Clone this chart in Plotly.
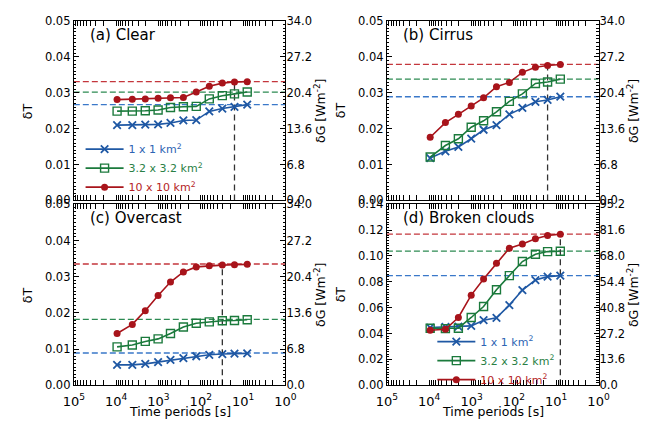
import plotly.graph_objects as go

FONT = "DejaVu Sans"

# ---------------- data ----------------
periods = [9500, 4150, 2050, 1020, 520, 258, 128, 63, 31, 16, 8]

x_tickvals = [1e5, 1e4, 1e3, 1e2, 1e1, 1e0]
x_ticktext = ["10<sup>5</sup>", "10<sup>4</sup>", "10<sup>3</sup>",
              "10<sup>2</sup>", "10<sup>1</sup>", "10<sup>0</sup>"]

series_names = ["1 x 1 km<sup>2</sup>", "3.2 x 3.2 km<sup>2</sup>", "10 x 10 km<sup>2</sup>"]

clear_1 = [0.0210, 0.0210, 0.0211, 0.0212, 0.0216, 0.0223, 0.0224, 0.0248, 0.0256, 0.0261, 0.0267]
clear_3 = [0.0249, 0.0249, 0.0250, 0.0252, 0.0259, 0.0261, 0.0262, 0.0283, 0.0292, 0.0297, 0.0302]
clear_10 = [0.0281, 0.0282, 0.0283, 0.0285, 0.0286, 0.0287, 0.0302, 0.0318, 0.0327, 0.0330, 0.0331]
clear_asym = [0.0267, 0.0302, 0.0331]

cirrus_1 = [0.0118, 0.0137, 0.0149, 0.0172, 0.0197, 0.0210, 0.0240, 0.0258, 0.0275, 0.0280, 0.0289]
cirrus_3 = [0.0121, 0.0153, 0.0172, 0.0204, 0.0222, 0.0247, 0.0276, 0.0297, 0.0326, 0.0330, 0.0338]
cirrus_10 = [0.0176, 0.0217, 0.0240, 0.0263, 0.0286, 0.0317, 0.0329, 0.0357, 0.0371, 0.0376, 0.0379]
cirrus_asym = [0.0289, 0.0338, 0.0379]

overcast_1 = [0.0056, 0.0056, 0.0059, 0.0064, 0.0070, 0.0075, 0.0080, 0.0084, 0.0086, 0.0087, 0.0088]
overcast_3 = [0.0106, 0.0111, 0.0121, 0.0128, 0.0143, 0.0161, 0.0171, 0.0175, 0.0178, 0.0179, 0.0181]
overcast_10 = [0.0143, 0.0168, 0.0206, 0.0248, 0.0285, 0.0313, 0.0327, 0.0330, 0.0332, 0.0333, 0.0334]
overcast_asym = [0.0089, 0.0182, 0.0335]

broken_1 = [0.0446, 0.0451, 0.0454, 0.0459, 0.0503, 0.0521, 0.0620, 0.0736, 0.0814, 0.0840, 0.0848]
broken_3 = [0.0441, 0.0438, 0.0441, 0.0524, 0.0609, 0.0739, 0.0848, 0.0957, 0.1014, 0.1034, 0.1037]
broken_10 = [0.0425, 0.0433, 0.0524, 0.0697, 0.0822, 0.0944, 0.1060, 0.1092, 0.1133, 0.1159, 0.1169]
broken_asym = [0.0848, 0.1037, 0.1169]

vline_period = [16, 16, 31, 8]

titles = ["(a) Clear", "(b) Cirrus", "(c) Overcast", "(d) Broken clouds"]

left_ticks_small = [0.00, 0.01, 0.02, 0.03, 0.04, 0.05]
right_ticks_small = [0.0, 6.8, 13.6, 20.4, 27.2, 34.0]
left_ticks_big = [0.00, 0.02, 0.04, 0.06, 0.08, 0.10, 0.12, 0.14]
right_ticks_big = [0.0, 13.6, 27.2, 40.8, 54.4, 68.0, 81.6, 95.2]

# ---------------- style ----------------
LINE_COLORS = ["#1f58a4", "#1b7a3c", "#a8141b"]
DASH_COLORS = ["#3a78c9", "#2c8a52", "#c4363c"]
TEXT_COLORS = ["#2d64b3", "#2a7f45", "#b51e25"]
MARKERS = [dict(symbol="x-thin", size=7.5, line=dict(width=1.8, color=LINE_COLORS[0])),
           dict(symbol="square-open", size=8, line=dict(width=1.4, color=LINE_COLORS[1])),
           dict(symbol="circle", size=7, color=LINE_COLORS[2], line=dict(width=0))]

panels = [
    dict(data=[clear_1, clear_3, clear_10], asym=clear_asym, big=False, legend="legend"),
    dict(data=[cirrus_1, cirrus_3, cirrus_10], asym=cirrus_asym, big=False, legend=None),
    dict(data=[overcast_1, overcast_3, overcast_10], asym=overcast_asym, big=False, legend=None),
    dict(data=[broken_1, broken_3, broken_10], asym=broken_asym, big=True, legend="legend2"),
]

W, H = 654, 427
col_px = [(65, 284), (389, 608)]
row_px = [(14.5, 200), (204, 391)]


def px_x(v):
    return v / W


def px_y(v):
    return 1 - v / H


fig = go.Figure()

minor_x = [m * 10 ** e for e in range(0, 5) for m in range(2, 10)]

for i, p in enumerate(panels, start=1):
    xa = "x" if i == 1 else f"x{i}"
    ya = "y" if i == 1 else f"y{i}"
    col = (i - 1) % 2
    row = (i - 1) // 2
    # horizontal asymptote lines
    for k in range(3):
        fig.add_trace(go.Scatter(x=[1e5, 1e0], y=[p["asym"][k]] * 2, xaxis=xa, yaxis=ya,
                                 mode="lines", line=dict(color=DASH_COLORS[k], width=1.3, dash="6px,3px"),
                                 showlegend=False, hoverinfo="skip"))
    # vertical dashed line
    fig.add_trace(go.Scatter(x=[vline_period[i - 1]] * 2, y=[0, max(p["asym"])], xaxis=xa, yaxis=ya,
                             mode="lines", line=dict(color="#333333", width=1.3, dash="6px,4px"),
                             showlegend=False, hoverinfo="skip"))
    for k in range(3):
        kw = dict(showlegend=p["legend"] is not None)
        if p["legend"] is not None:
            kw["legend"] = p["legend"]
        fig.add_trace(go.Scatter(
            x=periods, y=p["data"][k], xaxis=xa, yaxis=ya, mode="lines+markers",
            line=dict(color=LINE_COLORS[k], width=1.6), marker=MARKERS[k],
            name=f"<span style='color:{TEXT_COLORS[k]}'>{series_names[k]}</span>",
            hoverinfo="skip", **kw))
    # dummy trace for right axis
    fig.add_trace(go.Scatter(x=[None], y=[None], xaxis=xa, yaxis=f"y{i + 4}",
                             showlegend=False, hoverinfo="skip"))

    xdom = [px_x(col_px[col][0]), px_x(col_px[col][1])]
    ydom = [px_y(row_px[row][1]), px_y(row_px[row][0])]
    bottom = row == 1
    xkey = "xaxis" if i == 1 else f"xaxis{i}"
    ykey = "yaxis" if i == 1 else f"yaxis{i}"
    lt = left_ticks_big if p["big"] else left_ticks_small
    rt = right_ticks_big if p["big"] else right_ticks_small
    fig.layout[xkey] = dict(
        type="log", range=[5, 0], domain=xdom, anchor=ya,
        showline=True, linecolor="black", linewidth=1, mirror="allticks",
        ticks="inside", ticklen=5, tickwidth=1, tickcolor="black",
        tickmode="array", tickvals=x_tickvals, ticktext=x_ticktext,
        showticklabels=bottom, showgrid=False, zeroline=False,
        ticklabelstandoff=4,
        tickfont=dict(family=FONT, size=13, color="black"),
        minor=dict(tickmode="array", tickvals=minor_x, ticks="inside", ticklen=2.5,
                   tickcolor="black", tickwidth=1, showgrid=False),
    )
    fig.layout[ykey] = dict(
        range=[lt[0], lt[-1]], domain=ydom, anchor=xa,
        showline=True, linecolor="black", linewidth=1, mirror=True,
        ticks="inside", ticklen=5, tickwidth=1, tickcolor="black",
        tickmode="array", tickvals=lt, ticktext=[f"{v:.2f}" for v in lt],
        showgrid=False, zeroline=False,
        tickfont=dict(family=FONT, size=11.5, color="black"),
        minor=dict(dtick=(0.002 if p["big"] else 0.001), ticks="inside", ticklen=2.5,
                   tickcolor="black", tickwidth=1, showgrid=False),
    )
    fig.layout[f"yaxis{i + 4}"] = dict(
        range=[rt[0], rt[-1]], overlaying=ya, anchor=xa, side="right",
        showline=False, ticks="inside", ticklen=5, tickwidth=1, tickcolor="black",
        tickmode="array", tickvals=rt, ticktext=[f"{v:.1f}" for v in rt],
        showgrid=False, zeroline=False,
        tickfont=dict(family=FONT, size=11.5, color="black"),
        minor=dict(dtick=(1.36 if p["big"] else 0.68), ticks="inside", ticklen=2.5,
                   tickcolor="black", tickwidth=1, showgrid=False),
    )

    # panel title
    fig.add_annotation(text=titles[i - 1], xref="paper", yref="paper",
                       x=px_x(col_px[col][0] + 15), y=px_y(row_px[row][0] + 14),
                       xanchor="left", yanchor="middle", showarrow=False,
                       font=dict(family=FONT, size=15, color="black"))
    ymid = px_y((row_px[row][0] + row_px[row][1]) / 2)
    fig.add_annotation(text="δT", xref="paper", yref="paper",
                       x=px_x(col_px[col][0] - 48), y=ymid, textangle=-90,
                       xanchor="center", yanchor="middle", showarrow=False,
                       font=dict(family=FONT, size=12.5, color="black"))
    fig.add_annotation(text="δG [Wm<sup>-2</sup>]", xref="paper", yref="paper",
                       x=px_x(col_px[col][1] + 35), y=ymid, textangle=-90,
                       xanchor="center", yanchor="middle", showarrow=False,
                       font=dict(family=FONT, size=12.5, color="black"))
    if bottom:
        fig.add_annotation(text="Time periods [s]", xref="paper", yref="paper",
                           x=px_x((col_px[col][0] + col_px[col][1]) / 2), y=px_y(418),
                           xanchor="center", yanchor="middle", showarrow=False,
                           font=dict(family=FONT, size=12.5, color="black"))

fig.update_layout(
    width=W, height=H, autosize=False,
    margin=dict(l=0, r=0, t=0, b=0),
    paper_bgcolor="white", plot_bgcolor="white",
    font=dict(family=FONT, size=12, color="black"),
    legend=dict(x=px_x(72), y=px_y(132), xanchor="left", yanchor="top",
                bgcolor="rgba(0,0,0,0)", font=dict(family=FONT, size=11),
                tracegroupgap=0, itemwidth=38),
    legend2=dict(x=px_x(436), y=px_y(331), xanchor="left", yanchor="top",
                 bgcolor="rgba(0,0,0,0)", font=dict(family=FONT, size=11),
                 tracegroupgap=0, itemwidth=38),
)

fig.write_html("out.html",
               post_script="document.body.style.margin='0px';document.body.style.padding='0px';")
